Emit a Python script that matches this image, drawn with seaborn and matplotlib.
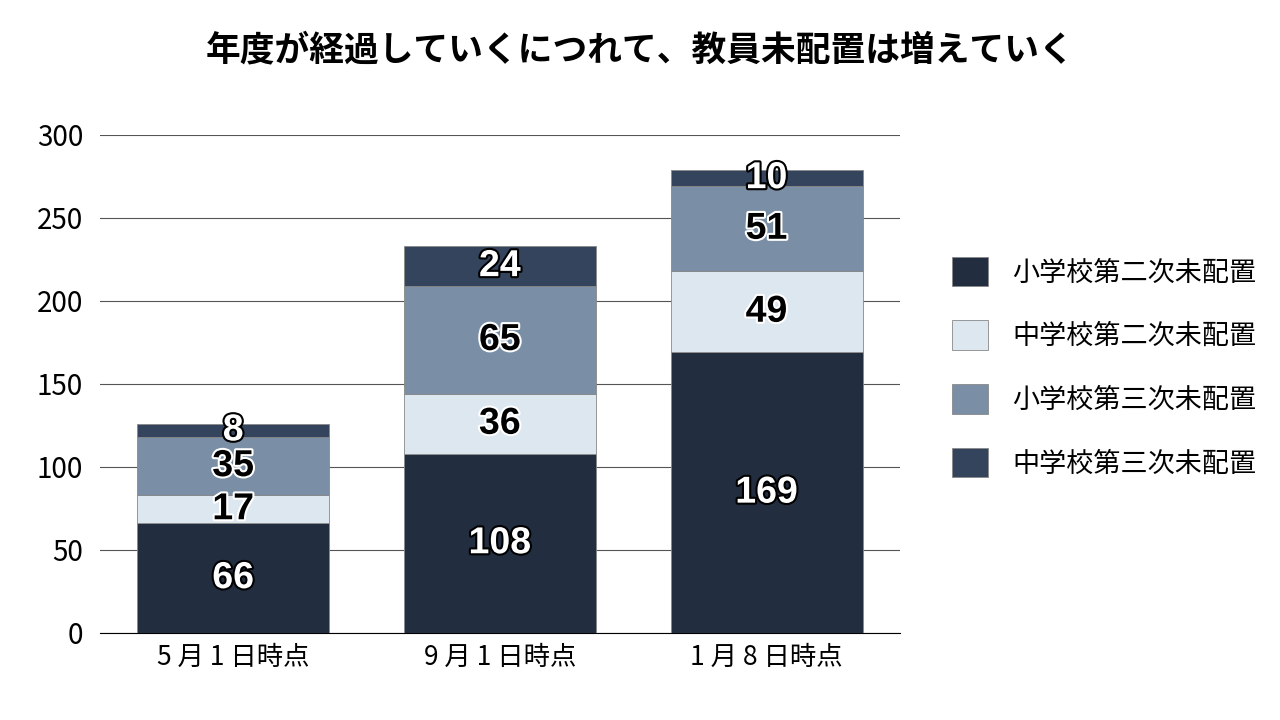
import matplotlib
matplotlib.use("Agg")
import matplotlib.pyplot as plt
import matplotlib.patheffects as pe
import seaborn as sns
import numpy as np
import pandas as pd

categories = ["5 月 1 日時点", "9 月 1 日時点", "1 月 8 日時点"]
series_names = ["小学校第二次未配置", "中学校第二次未配置", "小学校第三次未配置", "中学校第三次未配置"]
s1 = [66, 108, 169]
s2 = [17, 36, 49]
s3 = [35, 65, 51]
s4 = [8, 24, 10]
yticks = [0, 50, 100, 150, 200, 250, 300]

colors = ["#222e40", "#dde7f0", "#7a8fa6", "#34445c"]
dark = [True, False, False, True]

plt.rcParams["font.family"] = "Noto Sans CJK JP"
fig = plt.figure(figsize=(12.8, 7.2), dpi=100)
ax = fig.add_axes([0.078, 0.121, 0.625, 0.6915])

bottom = np.zeros(3)
for name, vals, c, d in zip(series_names, [s1, s2, s3, s4], colors, dark):
    df = pd.DataFrame({"cat": categories, "v": vals})
    sns.barplot(data=df, x="cat", y="v", color=c, bottom=bottom, width=0.72,
                edgecolor="#888888", linewidth=0.6, ax=ax, label=name, zorder=3,
                saturation=1)
    for i, v in enumerate(vals):
        y = bottom[i] + v / 2
        fc, sc = ("white", "black") if d else ("black", "white")
        ax.text(i, y, str(v), ha="center", va="center", fontsize=27, fontweight="bold",
                fontfamily="Liberation Sans", color=fc, zorder=5,
                path_effects=[pe.withStroke(linewidth=3, foreground=sc)])
    bottom += np.array(vals)

ax.set_xlim(-0.5, 2.5)
ax.set_ylim(0, 300)
ax.set_yticks(yticks)
ax.yaxis.grid(True, color="#555555", linewidth=0.8, zorder=0)
ax.set_axisbelow(True)
for s in ["top", "right", "left"]:
    ax.spines[s].set_visible(False)
ax.spines["bottom"].set_color("black")
ax.tick_params(axis="y", length=0, labelsize=20, pad=12)
ax.tick_params(axis="x", length=0, labelsize=19, pad=8)
ax.set_xlabel("")
ax.set_ylabel("")

handles, labels = ax.get_legend_handles_labels()
if ax.get_legend() is not None:
    ax.get_legend().remove()
fig.legend(handles, labels, loc="center left", bbox_to_anchor=(0.725, 0.49),
           frameon=False, fontsize=19.5, handlelength=1.3, handleheight=1.3,
           labelspacing=1.25, handletextpad=0.9)

fig.suptitle("年度が経過していくにつれて、教員未配置は増えていく", y=0.955,
             fontsize=25, fontweight="bold")
fig.savefig("out.png", dpi=100)
